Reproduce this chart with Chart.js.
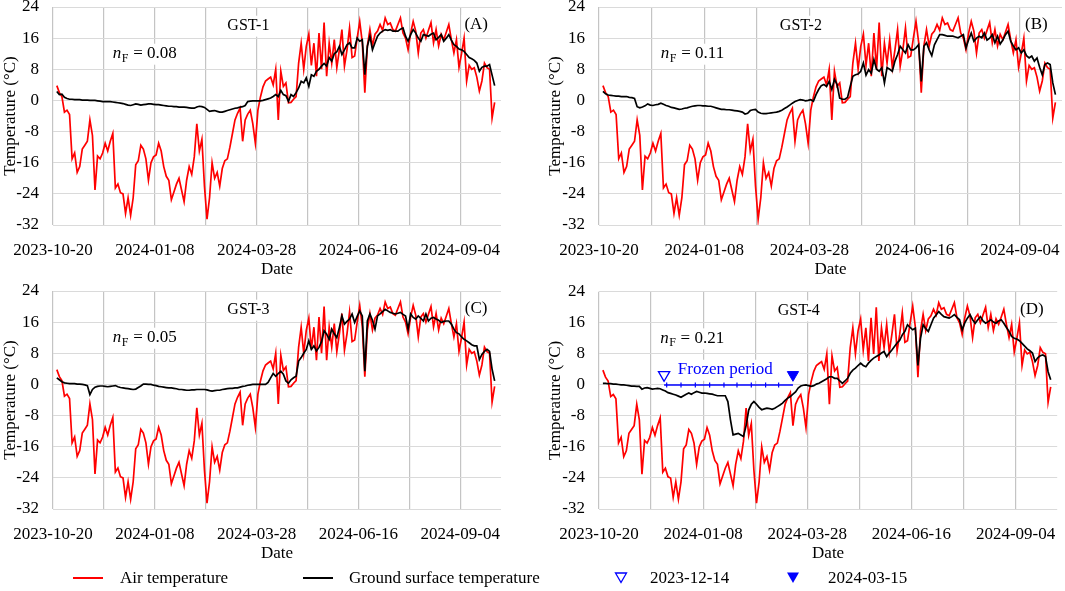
<!DOCTYPE html>
<html lang="en">
<head>
<meta charset="UTF-8">
<title>Air and ground surface temperature, GST-1 to GST-4</title>
<script src="https://cdn.jsdelivr.net/npm/chart.js@4"></script>
<style>
  body { margin: 0; background: #fff; width: 1065px; height: 591px; overflow: hidden; position: relative;
         font-family: 'Liberation Serif', 'Times New Roman', serif; color: #000; }
  .panel { position: absolute; }
  .leg { position: absolute; font-size: 17px; line-height: 20px; white-space: nowrap; }
  .legline { position: absolute; width: 30px; height: 2px; }
  .legmark { position: absolute; }
</style>
</head>
<body>
<div class="panel" style="left:0;top:0;width:530px;height:292px"><canvas id="chartA"></canvas></div>
<div class="panel" style="left:545px;top:0;width:520px;height:292px"><canvas id="chartB"></canvas></div>
<div class="panel" style="left:0;top:284px;width:530px;height:292px"><canvas id="chartC"></canvas></div>
<div class="panel" style="left:545px;top:284px;width:520px;height:292px"><canvas id="chartD"></canvas></div>

<div class="legline" style="left:73px;top:577px;background:#ff0000"></div>
<div class="leg" style="left:120px;top:568px" id="legAir"></div>
<div class="legline" style="left:303px;top:577px;background:#000000"></div>
<div class="leg" style="left:349px;top:568px" id="legGst"></div>
<svg class="legmark" style="left:614px;top:572px" width="14" height="12"><polygon points="1.5,1 12.5,1 7,10.5" fill="#fff" stroke="#0000ff" stroke-width="1.3"/></svg>
<div class="leg" style="left:650px;top:568px" id="legStart"></div>
<svg class="legmark" style="left:786px;top:572px" width="14" height="12"><polygon points="1,0.5 13,0.5 7,11" fill="#0000ff"/></svg>
<div class="leg" style="left:828px;top:568px" id="legEnd"></div>

<script>
  // days counted from 2023-10-20, one value every 2 days from day 3
  var startDay = 3;
  var stepDays = 2;

  var xTickLabels = ["2023-10-20", "2024-01-08", "2024-03-28", "2024-06-16", "2024-09-04"];
  var seriesNames = ["Air temperature", "Ground surface temperature"];
  var panelNames = ["GST-1", "GST-2", "GST-3", "GST-4"];
  var panelLetters = ["(A)", "(B)", "(C)", "(D)"];
  var nF = ["0.08", "0.11", "0.05", "0.21"];

  var airTemp = [
    3.8, 2, 1, -3, -2.5, -3.6, -15, -13.5, -18.5, -17,
    -12.5, -11.5, -10.5, -5, -9, -23, -14.3, -15, -13.5, -11,
    -13, -10.5, -8.5, -22.5, -21.5, -23.7, -24, -29, -25, -29.5,
    -25, -16.5, -15.5, -11.5, -12.5, -15, -20.5, -16, -14.5, -14,
    -11, -13, -17, -19.5, -20.5, -25.5, -23.5, -21.5, -20, -23,
    -26, -20.5, -17, -19, -14.5, -6, -13, -10, -22, -30.5,
    -25, -16, -20, -18.5, -22, -17.5, -15.5, -15, -12, -8.5,
    -5, -3.3, -2, -10.5, -5, -3.5, -2.5, -6, -11, -2.5,
    0.9, 3.5, 5, 5.5, 6, 4, 8, -5, 7.5, 3.6,
    4.5, -0.6, -0.5, 0.3, 1, 9.6, 14.7, 8, 13.9, 17,
    9, 14.7, 6.2, 17.3, 8, 20, 6.2, 14.7, 9.6, 15.6,
    8.4, 13, 18.2, 8.8, 13, 18.6, 11, 11.4, 16, 20.3,
    15, 2, 14, 18.2, 14, 17, 17.8, 19.5, 18, 21.2,
    19.5, 19.9, 18.2, 17.8, 19.5, 21.2, 17.3, 16, 13, 17.3,
    20.3, 17.8, 12.2, 17.3, 18.2, 16, 18, 20, 14.8, 18.2,
    14, 17, 15.6, 17.5, 19.5, 15.6, 12.2, 15.6, 8.5, 12,
    16, 5, 9, 8, 8.4, 6, 2.4, 5, 9.6, 8.4,
    8, -4.5, -0.5
  ];

  var gst1 = [
    2.3, 1.5, 1.6, 0.8, 0.5, 0.3, 0.3, 0.2, 0.2, 0.2,
    0.1, 0.1, 0.1, 0, 0, 0, -0.1, -0.2, -0.3, -0.3,
    -0.3, -0.3, -0.4, -0.5, -0.6, -0.7, -0.8, -1, -1.2, -1.3,
    -1.1, -0.9, -1, -1.2, -1.1, -1, -0.9, -0.9, -1, -1.1,
    -1.1, -1.2, -1.3, -1.4, -1.5, -1.5, -1.6, -1.6, -1.7, -1.7,
    -1.7, -1.8, -1.9, -2, -2, -1.7, -1.5, -1.6, -1.8, -2.3,
    -2.8, -2.7, -2.6, -2.8, -3, -3, -2.8, -2.6, -2.4, -2.2,
    -2, -1.9, -1.7, -1.6, -1.3, -0.3, -0.2, -0.1, -0.1, -0.1,
    -0.1, 0, 0.2, 0.4, 0.6, 1, 1.5, 1, 2.6, 1.5,
    1.2, -0.2, 1.5, 1, 2, 3.2, 4.9, 4.5, 5.8, 3.6,
    6.6, 6.2, 7.5, 8, 8.8, 9.5, 8.8, 11, 10.1, 12,
    12.5, 13.9, 11.8, 13, 14.3, 14.8, 13.5, 13.5, 16, 15.2,
    15.6, 6.6, 13.9, 16.5, 13, 14.8, 16.5, 17.3, 17.8, 18.2,
    18, 18.2, 17.8, 17.8, 17.8, 18.3, 18.6, 16.5, 15.2, 16.9,
    18.2, 17.3, 16, 15.2, 16.9, 16.7, 16.5, 17, 17.3, 15.6,
    16.2, 16.9, 15.2, 16, 16.9, 15.5, 14.3, 13.9, 13.2, 13,
    12.6, 11.8, 11, 10.7, 10.3, 9.6, 7.5, 8.5, 8.8, 8.8,
    9.2, 6.5, 3.8
  ];

  var gst2 = [
    2.3, 1.7, 1.4, 1.3, 1.2, 1.1, 1.1, 1, 1, 1,
    0.8, 0.7, 0.5, -1.6, -1.9, -1.7, -1.4, -0.9, -1.2, -1.3,
    -1.1, -1, -0.7, -1, -1.3, -1.5, -1.8, -1.9, -2.1, -2.3,
    -2.2, -2, -1.9, -1.7, -1.5, -1.4, -1.3, -1.3, -1.4, -1.4,
    -1.5, -1.5, -1.7, -1.9, -2.1, -2.3, -2.3, -2.4, -2.4, -2.5,
    -2.6, -2.7, -2.8, -3, -3.5, -3.3, -2.6, -2.4, -2.3, -3,
    -3.3, -3.4, -3.4, -3.3, -3.2, -3.1, -3, -2.8, -2.5, -2.1,
    -1.7, -1.2, -0.7, -0.3, 0, 0.2, 0.1, -0.1, 0, 0.2,
    -0.2, 1.5, 2.8, 3.8, 4.1, 3.6, 4.9, 2.8, 5.4, 4.1,
    0.6, 0.3, 0.3, 0.8, 3.6, 6.2, 6.6, 6.8, 7.5, 9.6,
    6.5, 7.9, 7, 10.5, 8, 7.5, 8.4, 4.5, 8.4, 8,
    7.5, 10.1, 11.8, 13.9, 13, 12.2, 14.3, 13, 13, 13.5,
    14.3, 4.9, 13.9, 14.8, 13, 11.5, 14.3, 15.6, 16.9, 16.9,
    16.7, 16.5, 16.5, 16.5, 16.3, 16.1, 16.5, 16.9, 13.5, 15.6,
    17.3, 15.2, 16, 16.5, 16.1, 17.3, 15.5, 16, 16.9, 14.8,
    16.5, 14.5, 15.5, 16.9, 17.8, 15.2, 14, 13, 13.5, 12.2,
    13, 11.5, 10.9, 11.4, 10.1, 10.9, 8.5, 6.6, 9.2, 9.6,
    9.2, 4.5, 1.5
  ];

  var gst3 = [
    1.7, 1.2, 0.7, 0.4, 0.3, 0.2, 0.2, 0.2, 0.1, 0.1,
    0, -0.1, -0.3, -2.6, -1.3, -0.7, -0.5, -0.4, -0.4, -0.5,
    -0.6, -0.5, -0.4, -0.3, -0.6, -0.8, -0.9, -1, -1.1, -1.2,
    -1.3, -1.2, -0.8, -0.4, 0.1, 0.1, 0, 0, -0.2, -0.3,
    -0.5, -0.6, -0.7, -0.8, -0.9, -0.9, -1, -1.1, -1.3, -1.3,
    -1.4, -1.5, -1.5, -1.4, -1.4, -1.3, -1.3, -1.3, -1.3, -1.4,
    -1.6, -1.7, -1.6, -1.5, -1.5, -1.3, -1.2, -1.1, -1, -1,
    -0.9, -0.9, -0.7, -0.5, -0.4, -0.2, -0.1, 0, 0, 0,
    0, 0, 0, 0.5, 1.7, 2.8, 2.1, 2.8, 3.4, 2.6,
    0.9, 0.3, 1.2, 1.7, 2.1, 6, 6.9, 8, 9, 11.2,
    9, 9.9, 8.6, 9.5, 11, 13.8, 12.9, 11.6, 14.2, 13,
    12, 14.6, 17.6, 15.5, 16.2, 16.8, 18.1, 15.9, 17.5, 18.9,
    17.6, 3.4, 16.3, 18.1, 16.5, 14.2, 17.6, 18.1, 18.7, 19.3,
    18.9, 18.5, 18.3, 18.1, 18.3, 18.5, 18, 17.6, 14.2, 18.1,
    17.2, 16.8, 17.6, 17, 16.3, 18.1, 16.3, 17, 17.2, 16.8,
    16.5, 15.9, 16.2, 16.3, 16.3, 15.5, 14.2, 13.3, 13, 12.2,
    11.6, 11.2, 10.7, 10.2, 9.9, 9.9, 6.4, 7.7, 8.5, 9,
    8.5, 3.9, 0.9
  ];

  var gst4 = [
    0.4, 0.4, 0.3, 0.3, 0.2, 0.2, 0.1, 0, 0, -0.1,
    -0.2, -0.3, -0.3, -0.4, -0.4, -1.1, -0.8, -0.7, -0.9, -1.1,
    -1, -0.9, -1, -1.3, -1.6, -2, -2.2, -2.4, -2.6, -2.9,
    -3.2, -2.8, -2.4, -2.1, -2.4, -2, -1.7, -1.9, -2.1, -2.1,
    -2.2, -2.3, -2.4, -2.6, -2.8, -2.8, -2.8, -2.8, -4.3, -9,
    -12.9, -12.7, -12.5, -12.9, -13.3, -10.5, -6.5, -5, -4.3, -5,
    -5.8, -6.4, -6.2, -6, -6.1, -6.3, -6, -5.6, -5.2, -4.7,
    -4, -3.4, -3, -2.4, -1.8, -0.8, -0.3, -0.1, 0, -0.2,
    -0.4, -0.2, 0.2, 0.4, 0.8, 1.2, 1.6, 2.1, 2.1, 1.7,
    1.7, 1, 0.4, 1, 1.7, 3, 3.8, 4.3, 5, 5.6,
    5, 4.7, 5.6, 6.3, 6.9, 7.3, 7.7, 8.2, 8.6, 7.3,
    8.2, 9, 9.9, 10.8, 11.5, 12.9, 13.8, 15.5, 14.8, 14.2,
    14.6, 5, 12, 15.5, 14.5, 13.8, 15.5, 17.2, 18, 18.9,
    18.2, 17.6, 17.4, 17.2, 17.6, 18.1, 17.4, 16.8, 14.2, 16,
    17.2, 18.1, 16.8, 15.9, 16.8, 17.6, 16.5, 15.9, 16.3, 16.8,
    16.2, 15.9, 16.5, 16.8, 15.9, 14.8, 13.8, 12.5, 12, 11.8,
    11.4, 10.7, 10, 9.3, 8.8, 8.2, 6, 7, 7.5, 7.7,
    7.3, 3.4, 1.3
  ];

  // frozen period of GST-4 (day numbers)
  var markerDates = ["2023-12-14", "2024-03-15"];
  var frozenDays = [50, 149];
  var frozenTickDays = [52, 63, 74, 85, 96, 106, 117, 128, 138];

  var FONT = "'Liberation Serif', 'Times New Roman', serif";

  document.getElementById("legAir").textContent = seriesNames[0];
  document.getElementById("legGst").textContent = seriesNames[1];
  document.getElementById("legStart").textContent = markerDates[0];
  document.getElementById("legEnd").textContent = markerDates[1];

  function toPoints(arr) {
    return arr.map(function (v, i) {
      return { x: startDay + i * stepDays, y: v };
    });
  }

  // texts inside the panels, with white boxes like the original
  var panelText = {
    id: "panelText",
    beforeDatasetsDraw: function (chart, args, opts) {
      var ctx = chart.ctx;
      var xs = chart.scales.x;
      var ys = chart.scales.y;
      ctx.save();
      ctx.textBaseline = "middle";
      opts.items.forEach(function (it) {
        var px = xs.getPixelForValue(it.x);
        var py = ys.getPixelForValue(it.y);
        if (it.nF) {
          ctx.font = "italic 17px " + FONT;
          var w1 = ctx.measureText("n").width;
          ctx.font = "12px " + FONT;
          var w2 = ctx.measureText("F").width;
          ctx.font = "17px " + FONT;
          var w3 = ctx.measureText(" = " + it.nF).width;
          ctx.fillStyle = "#fff";
          ctx.fillRect(px - 2, py - 10, w1 + w2 + w3 + 5, 21);
          ctx.fillStyle = "#000";
          ctx.font = "italic 17px " + FONT;
          ctx.textAlign = "left";
          ctx.fillText("n", px, py);
          ctx.font = "12px " + FONT;
          ctx.fillText("F", px + w1 + 0.5, py + 5);
          ctx.font = "17px " + FONT;
          ctx.fillText(" = " + it.nF, px + w1 + w2 + 1, py);
          return;
        }
        ctx.font = it.size + "px " + FONT;
        ctx.textAlign = "center";
        var w = ctx.measureText(it.text).width;
        ctx.fillStyle = "#fff";
        ctx.fillRect(px - w / 2 - 3, py - 10, w + 6, 21);
        ctx.fillStyle = it.color || "#000";
        ctx.fillText(it.text, px, py);
      });
      ctx.restore();
    }
  };

  function makePanel(canvasId, idx, gst, yWidth, padRight) {
    var datasets = [
      {
        label: seriesNames[1], data: toPoints(gst), borderColor: "#000000",
        borderWidth: 1.7, pointRadius: 0, tension: 0, order: 2
      },
      {
        label: seriesNames[0], data: toPoints(airTemp), borderColor: "#ff0000",
        borderWidth: 1.7, pointRadius: 0, tension: 0, order: 3
      }
    ];

    var items = [
      { text: panelNames[idx], x: 153.5, y: 19.2, size: 16 },
      { text: panelLetters[idx], x: 332.5, y: 19.4, size: 17 },
      { nF: nF[idx], x: 47, y: 12 }
    ];

    if (idx === 3) {
      datasets.push({
        data: frozenDays.map(function (d) { return { x: d, y: 0 }; }),
        borderColor: "#0000ff", borderWidth: 1.5, pointRadius: 0, order: 1
      });
      datasets.push({
        data: frozenTickDays.map(function (d) { return { x: d, y: 0 }; }),
        showLine: false, pointStyle: "line", pointRotation: 90, pointRadius: 2.5,
        borderColor: "#0000ff", borderWidth: 1.2, order: 1
      });
      datasets.push({
        data: [{ x: frozenDays[0], y: 2.6 }],
        showLine: false, pointStyle: "triangle", pointRotation: 180, pointRadius: 6.5,
        borderColor: "#0000ff", backgroundColor: "#ffffff", borderWidth: 1.3, order: 0
      });
      datasets.push({
        data: [{ x: frozenDays[1], y: 2.6 }],
        showLine: false, pointStyle: "triangle", pointRotation: 180, pointRadius: 6.5,
        borderColor: "#0000ff", backgroundColor: "#0000ff", borderWidth: 1, order: 0
      });
      items.push({ text: "Frozen period", x: 97, y: 3.9, size: 17, color: "#0000ff" });
    }

    return new Chart(document.getElementById(canvasId), {
      type: "line",
      data: { datasets: datasets },
      plugins: [panelText],
      options: {
        responsive: true,
        maintainAspectRatio: false,
        animation: false,
        events: [],
        layout: { padding: { left: 0, right: padRight, top: 7, bottom: 0 } },
        plugins: {
          legend: { display: false },
          tooltip: { enabled: false },
          panelText: { items: items }
        },
        scales: {
          x: {
            type: "linear", min: 0, max: 352,
            grid: { color: "#c4c4c4", lineWidth: 1.2, drawTicks: false },
            border: { display: false },
            ticks: {
              stepSize: 40, includeBounds: false, autoSkip: false, maxRotation: 0,
              padding: 15, color: "#000", font: { family: FONT, size: 17 },
              callback: function (v) { return v % 80 === 0 ? xTickLabels[v / 80] : ""; }
            },
            title: {
              display: true, text: "Date", color: "#000",
              font: { family: FONT, size: 17 }, padding: { top: 0, bottom: 12 }
            },
            afterFit: function (s) { s.height = 67; s.paddingLeft = 0; s.paddingRight = 0; }
          },
          y: {
            min: -32, max: 24,
            grid: { color: "#dadada", lineWidth: 1, drawTicks: false },
            border: { display: false },
            ticks: { stepSize: 8, padding: 14, color: "#000", font: { family: FONT, size: 17 } },
            title: {
              display: true, text: "Temperature (°C)", color: "#000",
              font: { family: FONT, size: 17 }, padding: { top: 0, bottom: 0 }
            },
            afterFit: function (s) { s.width = yWidth; s.paddingTop = 0; s.paddingBottom = 0; }
          }
        }
      }
    });
  }

  makePanel("chartA", 0, gst1, 53, 29);
  makePanel("chartB", 1, gst2, 54, 3);
  makePanel("chartC", 2, gst3, 53, 29);
  makePanel("chartD", 3, gst4, 54, 3);
</script>
</body>
</html>
